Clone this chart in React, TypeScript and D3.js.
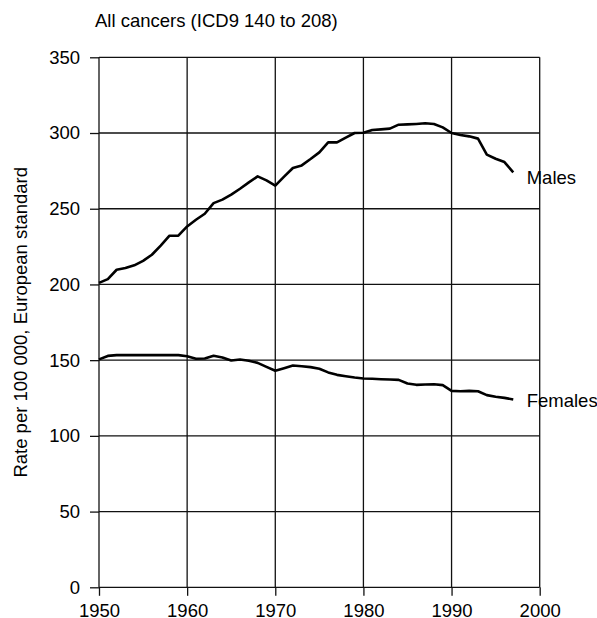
import React, { useRef, useEffect } from 'react';
import { scaleLinear, axisLeft, axisBottom, select, line } from 'd3';

const years = [
  1950, 1951, 1952, 1953, 1954, 1955, 1956, 1957, 1958, 1959,
  1960, 1961, 1962, 1963, 1964, 1965, 1966, 1967, 1968, 1969,
  1970, 1971, 1972, 1973, 1974, 1975, 1976, 1977, 1978, 1979,
  1980, 1981, 1982, 1983, 1984, 1985, 1986, 1987, 1988, 1989,
  1990, 1991, 1992, 1993, 1994, 1995, 1996, 1997
];

const males = [
  201, 203.5, 209.7, 210.8, 212.6, 215.6, 219.6, 225.6, 232.2, 232.2,
  238.3, 242.7, 246.7, 253.7, 256, 259.3, 263.2, 267.4, 271.4, 268.7,
  265.3, 271.2, 276.9, 278.6, 282.8, 287.2, 293.8, 293.8, 297, 300,
  300.2, 302, 302.4, 302.9, 305.5, 305.7, 306, 306.4, 306, 303.7,
  300, 298.7, 297.8, 296.3, 285.7, 283, 280.8, 274
];

const females = [
  150.5, 152.8, 153.3, 153.3, 153.3, 153.3, 153.3, 153.3, 153.3, 153.3,
  152.6, 150.9, 151.1, 152.9, 151.8, 149.8, 150.4, 149.6, 148.2, 145.6,
  143, 144.7, 146.5, 146, 145.4, 144.3, 141.9, 140.3, 139.4, 138.5,
  137.9, 137.7, 137.4, 137.2, 137, 134.6, 133.7, 133.9, 134.1, 133.5,
  129.7, 129.5, 129.7, 129.5, 126.9, 125.8, 125.1, 124
];

const xTicks = [1950, 1960, 1970, 1980, 1990, 2000];
const yTicks = [0, 50, 100, 150, 200, 250, 300, 350];

const seriesLabels = [
  { name: 'Males', values: males },
  { name: 'Females', values: females }
];

export default function App() {
  const svgRef = useRef<SVGSVGElement>(null);

  useEffect(() => {
    const width = 597;
    const height = 618;
    const dims = { left: 99, right: 539.7, top: 57.3, bottom: 587.3 };
    const font = '"Liberation Sans", Arial, Helvetica, sans-serif';
    const fontSize = '18.5px';

    const svg = select(svgRef.current);
    svg.selectAll('*').remove();
    svg.attr('width', width).attr('height', height);

    const x = scaleLinear().domain([1950, 2000]).range([dims.left, dims.right]);
    const y = scaleLinear().domain([0, 350]).range([dims.bottom, dims.top]);

    // Grid //
    svg.append('g')
      .selectAll('line')
      .data(xTicks)
      .enter()
      .append('line')
      .attr('x1', d => x(d))
      .attr('x2', d => x(d))
      .attr('y1', dims.top)
      .attr('y2', dims.bottom)
      .attr('stroke', '#111')
      .attr('stroke-width', 1.3);

    svg.append('g')
      .selectAll('line')
      .data(yTicks)
      .enter()
      .append('line')
      .attr('x1', dims.left)
      .attr('x2', dims.right)
      .attr('y1', d => y(d))
      .attr('y2', d => y(d))
      .attr('stroke', '#111')
      .attr('stroke-width', 1.3);

    // Axis //
    const yAxis = axisLeft(y).tickValues(yTicks).tickSizeInner(9).tickSizeOuter(0).tickPadding(10);
    const yAxisGroup = svg.append('g')
      .attr('transform', `translate(${dims.left}, 0)`)
      .call(yAxis);
    yAxisGroup.select('.domain').remove();
    yAxisGroup.selectAll('line').attr('stroke', '#111').attr('stroke-width', 1.3);
    yAxisGroup.selectAll('text')
      .attr('font-family', font)
      .attr('font-size', fontSize)
      .attr('fill', '#000');

    const xAxis = axisBottom(x).tickValues(xTicks).tickFormat(d => String(d)).tickSizeInner(8.5).tickSizeOuter(0).tickPadding(8.2);
    const xAxisGroup = svg.append('g')
      .attr('transform', `translate(0, ${dims.bottom})`)
      .call(xAxis);
    xAxisGroup.select('.domain').remove();
    xAxisGroup.selectAll('line').attr('stroke', '#111').attr('stroke-width', 1.3);
    xAxisGroup.selectAll('text')
      .attr('font-family', font)
      .attr('font-size', fontSize)
      .attr('fill', '#000');

    // Lines //
    const pathFor = line<number>()
      .x((_, i) => x(years[i]))
      .y(d => y(d));

    seriesLabels.forEach(s => {
      svg.append('path')
        .datum(s.values)
        .attr('fill', 'none')
        .attr('stroke', '#000')
        .attr('stroke-width', 2.6)
        .attr('stroke-linejoin', 'round')
        .attr('d', pathFor);
    });

    // Labels //
    svg.append('text')
      .attr('x', 95)
      .attr('y', 26.7)
      .attr('font-family', font)
      .attr('font-size', fontSize)
      .text('All cancers (ICD9 140 to 208)');

    svg.append('text')
      .attr('transform', `translate(27, ${(dims.top + dims.bottom) / 2}) rotate(-90)`)
      .attr('text-anchor', 'middle')
      .attr('font-family', font)
      .attr('font-size', fontSize)
      .text('Rate per 100 000, European standard');

    svg.append('text')
      .attr('x', 526.7)
      .attr('y', 184)
      .attr('font-family', font)
      .attr('font-size', fontSize)
      .text('Males');

    svg.append('text')
      .attr('x', 526.7)
      .attr('y', 407.3)
      .attr('font-family', font)
      .attr('font-size', fontSize)
      .text('Females');
  }, []);

  return (
    <div style={{ position: 'absolute', left: 0, top: 0 }}>
      <svg ref={svgRef} style={{ display: 'block', background: '#fff' }} />
    </div>
  );
}
